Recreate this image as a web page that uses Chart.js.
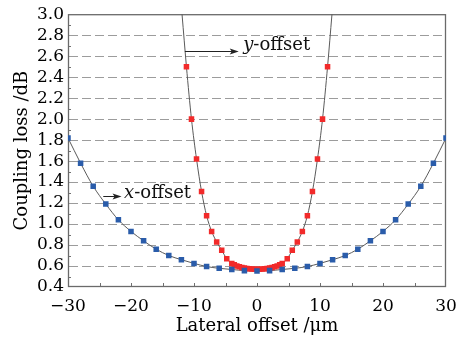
<!DOCTYPE html>
<html>
<head>
<meta charset="utf-8">
<script src="https://cdn.jsdelivr.net/npm/chart.js@4/dist/chart.umd.min.js"></script>
<style>
html,body{margin:0;padding:0;background:#fff;}
#c{display:block;}
</style>
</head>
<body>
<canvas id="c" width="468" height="340"></canvas>
<script>
// ---- data ----
const xOffsetPos = [-30,-28,-26,-24,-22,-20,-18,-16,-14,-12,-10,-8,-6,-4,-2,0,2,4,6,8,10,12,14,16,18,20,22,24,26,28,30];
const xOffsetLoss = [1.82,1.58,1.36,1.19,1.04,0.93,0.84,0.76,0.70,0.66,0.625,0.595,0.578,0.567,0.556,0.553,0.556,0.567,0.578,0.595,0.625,0.66,0.70,0.76,0.84,0.93,1.04,1.19,1.36,1.58,1.82];

const yOffsetPos = [-11.2,-10.4,-9.6,-8.8,-8.0,-7.2,-6.4,-5.6,-4.8,
  -4.0,-3.6,-3.2,-2.8,-2.4,-2.0,-1.6,-1.2,-0.8,-0.4,0,0.4,0.8,1.2,1.6,2.0,2.4,2.8,3.2,3.6,4.0,
  4.8,5.6,6.4,7.2,8.0,8.8,9.6,10.4,11.2];
const yOffsetLoss = [2.50,2.00,1.62,1.31,1.08,0.93,0.83,0.75,0.67,
  0.625,0.612,0.600,0.592,0.585,0.580,0.576,0.573,0.571,0.570,0.570,0.570,0.571,0.573,0.576,0.580,0.585,0.592,0.600,0.612,0.625,
  0.67,0.75,0.83,0.93,1.08,1.31,1.62,2.00,2.50];
// where the y-offset curve leaves the top of the frame
const yCurveEndPos = [-11.9, 11.9];
const yCurveEndLoss = [3.0, 3.0];

const xTickValues = [-30,-20,-10,0,10,20,30];
const xMinorTicks = [-25,-20,-15,-10,-5,0,5,10,15,20,25];
const yTickValues = [0.4,0.6,0.8,1.0,1.2,1.4,1.6,1.8,2.0,2.2,2.4,2.6,2.8,3.0];
const yGridValues = [0.6,0.8,1.0,1.2,1.4,1.6,1.8,2.0,2.2,2.4,2.6,2.8];
const yMinorTicks = [0.5,0.7,0.9,1.1,1.3,1.5,1.7,1.9,2.1,2.3,2.5,2.7,2.9];

const xLabelText = 'Lateral offset /μm';
const yLabelText = 'Coupling loss /dB';

// ---- build datasets ----
const toPts = (xs, ys) => xs.map((v, i) => ({x: v, y: ys[i]}));
const xPts = toPts(xOffsetPos, xOffsetLoss);
const yPts = toPts(yOffsetPos, yOffsetLoss);
const yCurve = [{x: yCurveEndPos[0], y: yCurveEndLoss[0]}, ...yPts, {x: yCurveEndPos[1], y: yCurveEndLoss[1]}];

const SERIF = "'DejaVu Serif', 'Liberation Serif', serif";

const framePlugin = {
  id: 'frame',
  beforeDatasetsDraw(chart) {
    const {ctx, chartArea: a, scales: {x, y}} = chart;
    ctx.save();
    ctx.strokeStyle = '#9c9c9c';
    ctx.lineWidth = 1.2;
    ctx.setLineDash([9, 4]);
    yGridValues.forEach(v => {
      const py = Math.round(y.getPixelForValue(v)) + 0.5;
      ctx.beginPath(); ctx.moveTo(a.left + 1, py); ctx.lineTo(a.right - 1, py); ctx.stroke();
    });
    ctx.setLineDash([]);
    ctx.strokeStyle = '#707070';
    ctx.lineWidth = 1;
    yMinorTicks.forEach(v => {
      const py = Math.round(y.getPixelForValue(v)) + 0.5;
      ctx.beginPath(); ctx.moveTo(a.left, py); ctx.lineTo(a.left + 3, py); ctx.stroke();
    });
    xMinorTicks.forEach(v => {
      const px = Math.round(x.getPixelForValue(v)) + 0.5;
      ctx.beginPath(); ctx.moveTo(px, a.bottom); ctx.lineTo(px, a.bottom - 4); ctx.stroke();
    });
    ctx.strokeStyle = '#6a6a6a';
    ctx.lineWidth = 1.3;
    ctx.strokeRect(a.left + 0.5, a.top + 0.5, a.right - a.left - 1, a.bottom - a.top - 1);
    ctx.restore();
  },
  afterDatasetsDraw(chart) {
    const {ctx, scales: {x, y}} = chart;
    ctx.save();
    const arrow = (x0, x1, yv) => {
      const px0 = x.getPixelForValue(x0), px1 = x.getPixelForValue(x1);
      const py = Math.round(y.getPixelForValue(yv)) + 0.5;
      ctx.strokeStyle = '#222'; ctx.fillStyle = '#222'; ctx.lineWidth = 1;
      ctx.beginPath(); ctx.moveTo(px0, py); ctx.lineTo(px1 - 6, py); ctx.stroke();
      ctx.beginPath(); ctx.moveTo(px1, py); ctx.lineTo(px1 - 9, py - 3); ctx.lineTo(px1 - 7, py); ctx.lineTo(px1 - 9, py + 3); ctx.closePath(); ctx.fill();
    };
    const label = (xv, yv, it, rest) => {
      let px = x.getPixelForValue(xv);
      const py = y.getPixelForValue(yv);
      ctx.fillStyle = '#111';
      ctx.textBaseline = 'middle';
      ctx.textAlign = 'left';
      ctx.font = 'italic 18px ' + SERIF;
      ctx.fillText(it, px, py);
      px += ctx.measureText(it).width;
      ctx.font = '18px ' + SERIF;
      ctx.fillText(rest, px, py);
    };
    arrow(-11.45, -2.9, 2.65);
    label(-2.2, 2.70, 'y', '-offset');
    arrow(-24.4, -21.5, 1.27);
    label(-21.1, 1.29, 'x', '-offset');
    ctx.restore();
  }
};

new Chart(document.getElementById('c'), {
  type: 'scatter',
  data: {
    datasets: [
      {label: 'x-offset', data: xPts, pointStyle: 'rect', pointRadius: 3.9, pointHoverRadius: 3.9,
       backgroundColor: '#2a5caa', borderColor: '#2a5caa', borderWidth: 0, showLine: false, order: 1},
      {label: 'y-offset', data: yPts, pointStyle: 'rect', pointRadius: 3.9, pointHoverRadius: 3.9,
       backgroundColor: '#f22a2a', borderColor: '#f22a2a', borderWidth: 0, showLine: false, order: 1},
      {label: 'x-fit', data: xPts, showLine: true, pointRadius: 0, borderColor: '#5a5a5a', borderWidth: 1,
       cubicInterpolationMode: 'monotone', order: 2},
      {label: 'y-fit', data: yCurve, showLine: true, pointRadius: 0, borderColor: '#5a5a5a', borderWidth: 1,
       cubicInterpolationMode: 'monotone', order: 2}
    ]
  },
  options: {
    responsive: false,
    animation: false,
    events: [],
    layout: {padding: {top: 13, right: 22, left: 0, bottom: 0}},
    plugins: {legend: {display: false}, tooltip: {enabled: false}},
    scales: {
      x: {
        type: 'linear', min: -30, max: 30,
        afterFit: s => { s.height = 53; },
        afterBuildTicks: s => { s.ticks = xTickValues.map(v => ({value: v})); },
        grid: {display: false, drawTicks: false},
        border: {display: false},
        ticks: {color: '#000', padding: 9, autoSkip: false, maxRotation: 0, font: {family: SERIF, size: 17},
                callback: v => String(v).replace('-', '\u2212')},
        title: {display: true, text: xLabelText, color: '#000', font: {family: SERIF, size: 18}, padding: {top: 0, bottom: 3}}
      },
      y: {
        type: 'linear', min: 0.4, max: 3.0,
        afterFit: s => { s.width = 68; },
        afterBuildTicks: s => { s.ticks = yTickValues.map(v => ({value: v})); },
        grid: {display: false, drawTicks: false},
        border: {display: false},
        ticks: {color: '#000', padding: 4, autoSkip: false, font: {family: SERIF, size: 17},
                callback: v => Number(v).toFixed(1)},
        title: {display: true, text: yLabelText, color: '#000', font: {family: SERIF, size: 18}, padding: {top: 12, bottom: 0}}
      }
    }
  },
  plugins: [framePlugin]
});
</script>
</body>
</html>
